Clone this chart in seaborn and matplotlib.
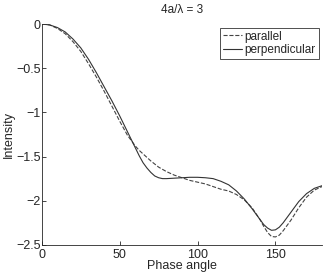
import matplotlib
matplotlib.use("Agg")
import matplotlib.pyplot as plt
import seaborn as sns
import pandas as pd

phase = [0, 5, 10, 15, 20, 25, 30, 35, 40, 45, 50, 55, 60, 62.5, 65, 67.5, 70, 72.5,
         75, 77.5, 80, 85, 90, 95, 100, 105, 110, 115, 120, 125, 130, 135, 140, 142.5,
         145, 147.5, 150, 152.5, 155, 157.5, 160, 165, 170, 175, 180]
parallel = [0, -0.01, -0.05, -0.11, -0.20, -0.31, -0.45, -0.60, -0.76, -0.93,
            -1.10, -1.26, -1.38, -1.43, -1.47, -1.51, -1.55, -1.585,
            -1.62, -1.645, -1.67, -1.71, -1.74, -1.77,
            -1.79, -1.81, -1.84, -1.87, -1.89, -1.93, -1.99, -2.08, -2.21, -2.29,
            -2.36, -2.405, -2.41, -2.39, -2.34, -2.28, -2.22, -2.08, -1.96, -1.88, -1.84]
perpendicular = [0, -0.01, -0.04, -0.09, -0.17, -0.27, -0.40, -0.55, -0.71, -0.87,
                 -1.04, -1.22, -1.40, -1.49, -1.57, -1.63, -1.68, -1.72,
                 -1.74, -1.75, -1.75, -1.745, -1.74, -1.735,
                 -1.735, -1.74, -1.75, -1.78, -1.82, -1.89, -1.98, -2.09, -2.21, -2.27,
                 -2.31, -2.335, -2.33, -2.30, -2.25, -2.19, -2.13, -2.01, -1.92, -1.86, -1.83]

df = pd.DataFrame({"phase": phase, "parallel": parallel, "perpendicular": perpendicular})

sns.set_style("ticks")
plt.rcParams['font.family'] = ['Liberation Sans', 'DejaVu Sans']
plt.rcParams['xtick.direction'] = 'in'
plt.rcParams['ytick.direction'] = 'in'

fig = plt.figure(figsize=(3.27, 2.73), dpi=100)
ax = fig.add_axes([0.128, 0.103, 0.857, 0.809])

sns.lineplot(data=df, x="phase", y="parallel", ax=ax, color="#444444",
             linestyle="--", linewidth=0.8, label="parallel")
sns.lineplot(data=df, x="phase", y="perpendicular", ax=ax, color="#333333",
             linewidth=0.8, label="perpendicular")

ax.set_xlim(0, 180)
ax.set_ylim(-2.5, 0)
ax.set_xticks([0, 50, 100, 150])
ax.set_yticks([-2.5, -2, -1.5, -1, -0.5, 0])
ax.set_yticklabels(["\u22122.5", "\u22122", "\u22121.5", "\u22121", "\u22120.5", "0"])
ax.tick_params(labelsize=9, length=3, width=0.6, pad=1)
ax.tick_params(axis="x", pad=3)
sns.despine(ax=ax)
for s in ["left", "bottom"]:
    ax.spines[s].set_linewidth(0.6)

ax.set_xlabel("Phase angle", fontsize=9, labelpad=-1)
ax.set_ylabel("Intensity", fontsize=9, labelpad=1)
ax.set_title("4a/\u03bb = 3", fontsize=8.5, pad=8)

leg = ax.legend(loc="upper right", fontsize=8.5, frameon=True, fancybox=False,
                handlelength=1.6, handletextpad=0.2, borderpad=0.25,
                labelspacing=0.1, borderaxespad=0.3)
leg.get_frame().set_edgecolor("black")
leg.get_frame().set_linewidth(0.6)

fig.savefig("out.png", dpi=100)
